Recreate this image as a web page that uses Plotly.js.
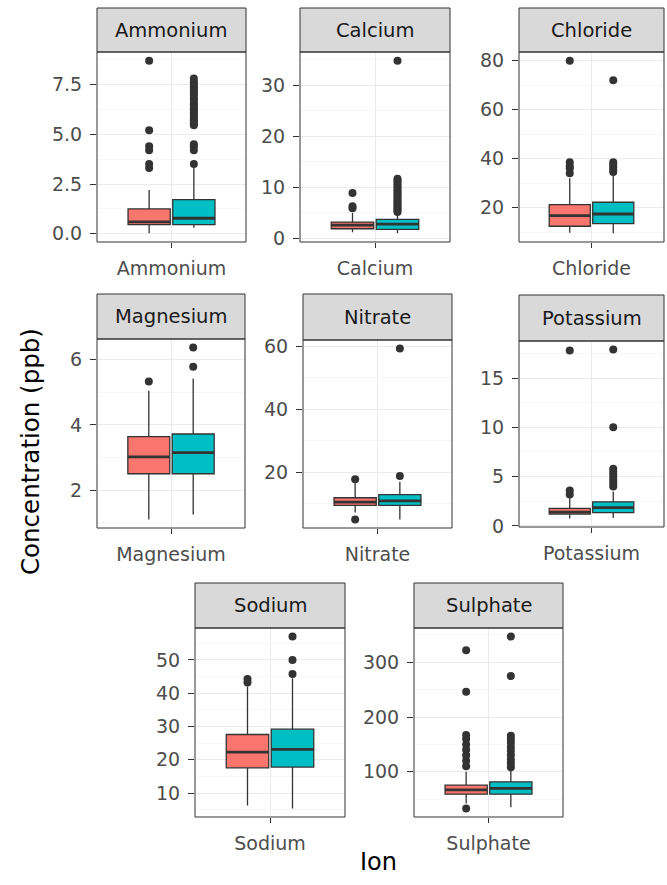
<!DOCTYPE html>
<html>
<head>
<meta charset="utf-8">
<script src="https://cdn.plot.ly/plotly-3.0.1.min.js"></script>
<style>
  html, body { margin: 0; padding: 0; background: #ffffff; }
  #chart { width: 667px; height: 885px; }
</style>
</head>
<body>
<div id="chart"></div>
<script>
// Ions, one facet each
const ions = ['Ammonium', 'Calcium', 'Chloride', 'Magnesium', 'Nitrate', 'Potassium', 'Sodium', 'Sulphate'];

// First group (red boxes): whisker ends, quartiles and median, in ppb
const lowA  = [0.02, 1.2, 9.8, 1.1, 7.2, 0.75, 6.3, 42];
const q1A   = [0.46, 1.9, 12.4, 2.5, 9.5, 1.2, 17.6, 59];
const medA  = [0.6, 2.6, 16.7, 3.02, 10.5, 1.4, 22.3, 67];
const q3A   = [1.25, 3.2, 21.2, 3.64, 11.9, 1.78, 27.6, 75.5];
const highA = [2.2, 5.0, 32, 5.05, 16.5, 2.8, 42, 100];
const outA = [
  [3.3, 3.5, 4.2, 4.4, 5.2, 8.7],
  [5.9, 6.3, 8.9],
  [34, 36, 37, 38.5, 80],
  [5.33],
  [5.0, 17.8],
  [3.2, 3.6, 17.8],
  [43.2, 44.3],
  [33, 110, 120, 130, 140, 150, 160, 167, 246, 322]
];

// Second group (teal boxes)
const lowB  = [0.3, 1.0, 9.5, 1.25, 5.0, 0.8, 5.4, 35];
const q1B   = [0.46, 1.8, 13.5, 2.5, 9.5, 1.35, 17.8, 59];
const medB  = [0.78, 2.8, 17.4, 3.15, 10.9, 1.85, 23.1, 69.5];
const q3B   = [1.72, 3.75, 22.2, 3.72, 12.9, 2.45, 29.2, 81.6];
const highB = [3.3, 4.8, 33, 5.42, 17, 3.5, 44.5, 104];
const outB = [
  [3.5, 4.2, 4.4, 4.5, 5.45, 5.52, 5.6, 5.71, 5.8, 5.93, 6.02, 6.1, 6.24, 6.31, 6.45, 6.5, 6.62, 6.73, 6.8, 6.95, 7.04, 7.12, 7.25, 7.33, 7.41, 7.56, 7.64, 7.8],
  [5.2, 5.5, 5.8, 6.1, 6.5, 6.8, 7.2, 7.5, 7.9, 8.3, 8.6, 9.0, 9.4, 9.8, 10.2, 10.6, 11.0, 11.4, 11.7, 34.8],
  [34.5, 35.5, 36.5, 37.5, 38.5, 72],
  [5.78, 6.37],
  [18.8, 59.3],
  [4.0, 4.3, 4.6, 4.9, 5.2, 5.5, 5.8, 10.0, 17.9],
  [45.8, 50, 57],
  [108, 115, 122, 130, 138, 145, 153, 160, 166, 275, 347]
];

// Major tick step and label format per facet
const tickSteps = [2.5, 10, 20, 2, 20, 5, 10, 100];
const tickFormats = ['.1f', '', '', '', '', '', '', ''];

// Facet geometry in page pixels: [left, right, plotTop, plotBottom, stripTop]
const W = 667, H = 885;
const panels = [
  [97, 246, 52, 242, 8],
  [300, 450, 52, 242, 8],
  [519, 664, 52, 242, 8],
  [97, 245, 339, 528, 294],
  [303, 452, 340, 528, 294],
  [519, 664, 341, 527, 295],
  [195, 345, 628, 817, 583],
  [414, 563, 628, 817, 583]
];

const FONT = 'DejaVu Sans, Liberation Sans, Arial, sans-serif';
const INK = '#333333';
const colA = '#F8766D', colB = '#00BFC4';
const dodge = 0.18, boxW = 0.34;

const traces = [];
const layout = {
  width: W, height: H,
  margin: { l: 0, r: 0, t: 0, b: 0 },
  paper_bgcolor: '#ffffff',
  plot_bgcolor: '#ffffff',
  showlegend: false,
  shapes: [],
  annotations: []
};

ions.forEach((ion, i) => {
  const n = i === 0 ? '' : String(i + 1);
  const xa = 'x' + n, ya = 'y' + n;
  const groups = [
    { c: 1 - dodge, lo: lowA[i], q1: q1A[i], med: medA[i], q3: q3A[i], hi: highA[i], out: outA[i], fill: colA },
    { c: 1 + dodge, lo: lowB[i], q1: q1B[i], med: medB[i], q3: q3B[i], hi: highB[i], out: outB[i], fill: colB }
  ];

  groups.forEach(g => {
    traces.push({
      type: 'box', xaxis: xa, yaxis: ya,
      x: [g.c], q1: [g.q1], median: [g.med], q3: [g.q3],
      lowerfence: [g.lo], upperfence: [g.hi],
      width: boxW, whiskerwidth: 0, boxpoints: false,
      fillcolor: g.fill, line: { color: INK, width: 1.3 },
      hoverinfo: 'skip'
    });
    // thicker median bar
    traces.push({
      type: 'scatter', mode: 'lines', xaxis: xa, yaxis: ya,
      x: [g.c - boxW / 2, g.c + boxW / 2], y: [g.med, g.med],
      line: { color: INK, width: 2.8 }, hoverinfo: 'skip'
    });
    traces.push({
      type: 'scatter', mode: 'markers', xaxis: xa, yaxis: ya,
      x: g.out.map(() => g.c), y: g.out,
      marker: { color: INK, size: 8 }, hoverinfo: 'skip'
    });
  });

  const vals = [lowA[i], highA[i], lowB[i], highB[i]].concat(outA[i], outB[i]);
  const lo = Math.min.apply(null, vals), hi = Math.max.apply(null, vals);
  const pad = 0.05 * (hi - lo);

  const [l, r, t, b, st] = panels[i];
  const step = tickSteps[i];

  layout['xaxis' + n] = {
    domain: [l / W, r / W], anchor: ya,
    range: [0.4, 1.6], tickvals: [1], ticktext: [ion],
    ticks: 'outside', ticklen: 5, tickwidth: 1, tickcolor: INK,
    ticklabelstandoff: 4,
    showgrid: true, gridcolor: '#EBEBEB', gridwidth: 1,
    zeroline: false, showline: false, fixedrange: true,
    tickfont: { family: FONT, size: 19, color: '#4D4D4D' }
  };
  layout['yaxis' + n] = {
    domain: [1 - b / H, 1 - t / H], anchor: xa,
    range: [lo - pad, hi + pad], tick0: 0, dtick: step, tickformat: tickFormats[i],
    ticks: 'outside', ticklen: 6, tickwidth: 1, tickcolor: INK,
    ticklabelstandoff: 4,
    showgrid: true, gridcolor: '#EBEBEB', gridwidth: 1,
    minor: { dtick: step / 2, tick0: 0, showgrid: true, gridcolor: '#F4F4F4', gridwidth: 0.7, ticks: '' },
    zeroline: false, showline: false, fixedrange: true,
    tickfont: { family: FONT, size: 19, color: '#4D4D4D' }
  };

  // facet strip
  layout.shapes.push({
    type: 'rect', xref: 'paper', yref: 'paper', layer: 'above',
    x0: l / W, x1: r / W, y0: 1 - t / H, y1: 1 - st / H,
    fillcolor: '#D9D9D9', line: { color: INK, width: 1 }
  });
  // panel border
  layout.shapes.push({
    type: 'rect', xref: 'paper', yref: 'paper', layer: 'above',
    x0: l / W, x1: r / W, y0: 1 - b / H, y1: 1 - t / H,
    fillcolor: 'rgba(0,0,0,0)', line: { color: INK, width: 1 }
  });
  layout.annotations.push({
    xref: 'paper', yref: 'paper', x: (l + r) / 2 / W, y: 1 - (st + t) / 2 / H,
    xanchor: 'center', yanchor: 'middle', showarrow: false,
    text: ion, font: { family: FONT, size: 19.5, color: '#1A1A1A' }
  });
});

// shared axis titles
layout.annotations.push({
  xref: 'paper', yref: 'paper', x: 30 / W, y: 1 - 452 / H,
  xanchor: 'center', yanchor: 'middle', showarrow: false, textangle: -90,
  text: 'Concentration (ppb)', font: { family: FONT, size: 24.5, color: '#000000' }
});
layout.annotations.push({
  xref: 'paper', yref: 'paper', x: 378 / W, y: 1 - 862 / H,
  xanchor: 'center', yanchor: 'middle', showarrow: false,
  text: 'Ion', font: { family: FONT, size: 24, color: '#000000' }
});

Plotly.newPlot('chart', traces, layout, { staticPlot: true, displayModeBar: false });
</script>
</body>
</html>
